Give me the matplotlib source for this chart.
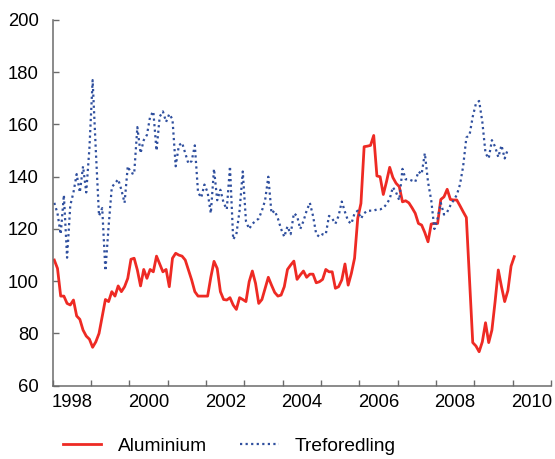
import numpy as np
import matplotlib
matplotlib.use("Agg")
import matplotlib.pyplot as plt

# monthly index values, Jan 1998 onwards
aluminium = [108.1, 104.9, 94.3, 94.3, 91.5, 90.9, 92.8, 86.7, 85.4, 81.3, 79.0, 77.8,
             74.7, 76.8, 80.0, 86.4, 93.0, 92.2, 96.0, 94.3, 98.2, 96.0, 97.9, 101.1,
             108.4, 108.8, 104.3, 98.2, 104.5, 101.1, 104.5, 103.6, 109.6, 106.6, 103.6, 104.5,
             97.9, 108.8, 110.7, 110.0, 109.6, 108.1, 104.3, 100.5, 96.0, 94.3, 94.3, 94.3,
             94.3, 101.5, 107.6, 104.9, 96.0, 93.0, 92.8, 93.7, 90.9, 89.2, 93.7, 93.0,
             92.2, 99.8, 103.9, 99.2, 91.5, 93.0, 97.3, 101.5, 98.5, 95.7, 94.3, 94.7,
             97.9, 104.5, 106.2, 107.7, 100.7, 102.4, 103.9, 101.5, 102.7, 102.7, 99.4, 99.8,
             100.7, 104.5, 103.6, 103.6, 97.3, 97.9, 100.5, 106.6, 98.5, 103.0, 108.8, 124.1,
             129.8, 151.5, 151.7, 152.0, 155.8, 140.3, 140.0, 133.2, 138.1, 143.6, 139.7, 137.5,
             136.2, 130.4, 130.8, 130.0, 128.1, 126.0, 122.1, 121.5, 118.6, 115.1, 121.9, 122.1,
             122.1, 131.3, 132.3, 135.2, 131.3, 131.1, 131.1, 128.9, 126.6, 124.4, 100.5, 76.5,
             75.2, 73.0, 76.8, 84.1, 76.5, 81.3, 92.2, 104.3, 97.9, 92.2, 96.4, 105.8, 109.4]

treforedling = [130, 126, 118, 133, 109, 129, 134, 141, 134, 144, 134, 151,
                177, 150, 125, 128, 104, 121, 136, 137.5, 139, 135, 130, 144,
                141.5, 141, 159, 149, 154, 156, 163, 165, 150, 163, 165, 161,
                164, 162, 144, 152, 153, 149, 145, 146, 152, 134, 132, 137,
                134, 126, 143, 131, 135, 130, 127.5, 144, 116, 118, 127, 142,
                123, 120, 122, 123, 124, 127, 131, 140, 126, 127, 124, 120,
                117, 121, 118, 126, 125, 120, 123, 127, 130, 125, 118, 117,
                118, 118, 125, 124, 122, 125, 130.5, 126.5, 123, 122, 126, 127,
                124, 126, 127, 127, 127, 127.5, 127.5, 128, 129.5, 131.5, 136, 134,
                131, 143, 139, 139, 138.5, 138, 142, 141, 149, 138, 131, 120,
                124, 130, 125.5, 126.5, 129, 131, 133, 137, 144, 155, 156, 163,
                168, 169, 161, 149, 147, 154, 151.5, 147.5, 152, 147, 150.5]

start_year = 1998
year_ticks = list(range(1998, 2012))
year_labels = ["1998", "2000", "2002", "2004", "2006", "2008", "2010"]
y_ticks = [60, 80, 100, 120, 140, 160, 180, 200]

RED = "#EE2A24"
BLUE = "#2F4F9E"
AXIS = "#6b6b6b"

plt.rcParams.update({"font.family": ["Liberation Sans", "DejaVu Sans"],
                     "font.size": 13.3,
                     "axes.linewidth": 1.1})


def months_to_x(n):
    # mid-month positions in years
    return start_year + (np.arange(n) + 0.5) / 12.


fig = plt.figure(figsize=(5.55, 4.59), dpi=100)
ax = fig.add_axes([52.7 / 555, 1 - 385.7 / 459, (551 - 52.7) / 555, (385.7 - 20) / 459])

ax.plot(months_to_x(len(aluminium)), aluminium, color=RED, lw=2.0,
        label="Aluminium", solid_joinstyle="round")
ax.plot(months_to_x(len(treforedling)), treforedling, color=BLUE, lw=1.6,
        linestyle=(0, (1, 1.5)), dash_capstyle="butt", label="Treforedling")

ax.set_xlim(1998, 2011)
ax.set_ylim(60, 200)

for side in ["top", "right"]:
    ax.spines[side].set_visible(False)
for side in ["left", "bottom"]:
    ax.spines[side].set_color(AXIS)

ax.set_yticks(y_ticks)
ax.tick_params(axis="y", direction="in", length=4, width=1, color=AXIS, pad=10)

ax.set_xticks(year_ticks)
ax.set_xticklabels([])
ax.set_xticks([int(y) + 0.5 for y in year_labels], minor=True)
ax.set_xticklabels(year_labels, minor=True)
ax.tick_params(axis="x", which="major", direction="in", length=4, width=1, color=AXIS)
ax.tick_params(axis="x", which="minor", length=0, pad=6)

fig.legend(loc="center left", bbox_to_anchor=(63 / 555, 1 - 446 / 459),
           bbox_transform=fig.transFigure, ncol=2, frameon=False, fontsize=13.8,
           handlelength=2.0, handletextpad=0.85, columnspacing=1.75,
           borderpad=0, borderaxespad=0)

fig.savefig("out.png", dpi=100)
